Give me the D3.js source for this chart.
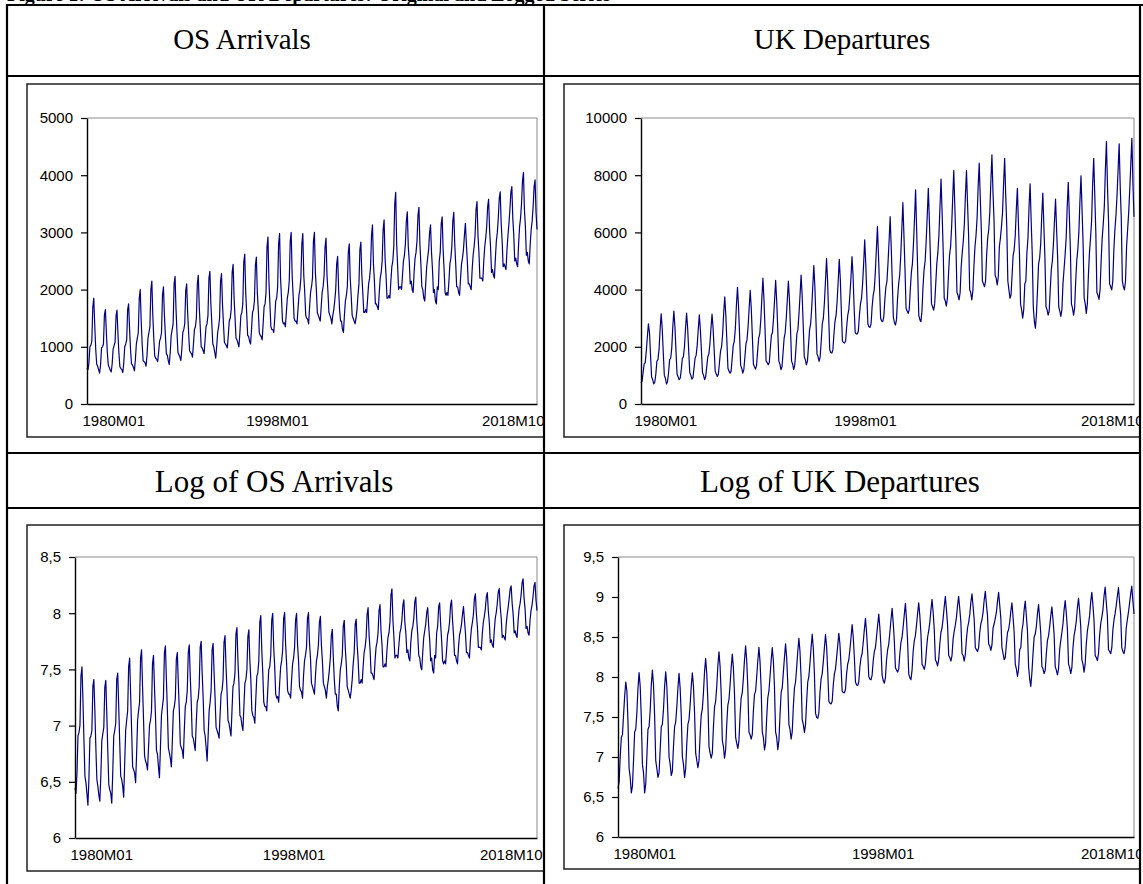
<!DOCTYPE html>
<html>
<head>
<meta charset="utf-8">
<script src="https://cdn.jsdelivr.net/npm/d3@7"></script>
<style>
  body { margin: 0; background: #fff; }
  svg { display: block; }
</style>
</head>
<body>
<svg id="chart"></svg>
<script>
// monthly series, one row per year, 1980M01 .. 2018M10 (thousands)
const years = d3.range(1980, 2019);

const osArrivals = [
  [630, 600, 720, 1000, 1030, 1100, 1700, 1850, 1380, 960, 700, 660],
  [600, 540, 680, 980, 1000, 1050, 1560, 1650, 1250, 900, 680, 640],
  [590, 560, 700, 960, 1020, 1080, 1540, 1640, 1220, 880, 650, 620],
  [600, 550, 720, 1000, 1050, 1120, 1650, 1750, 1300, 950, 700, 680],
  [640, 580, 780, 1050, 1150, 1250, 1850, 2000, 1450, 1050, 760, 740],
  [720, 660, 850, 1150, 1250, 1350, 2000, 2150, 1550, 1150, 840, 800],
  [780, 740, 900, 1100, 1150, 1250, 1900, 2050, 1550, 1200, 880, 850],
  [760, 690, 900, 1200, 1300, 1400, 2100, 2230, 1650, 1250, 900, 860],
  [820, 760, 960, 1250, 1300, 1400, 1980, 2100, 1600, 1250, 930, 900],
  [880, 820, 1050, 1300, 1350, 1500, 2100, 2250, 1700, 1350, 1000, 980],
  [930, 880, 1120, 1350, 1400, 1550, 2200, 2320, 1750, 1400, 1050, 1000],
  [900, 800, 1000, 1250, 1350, 1500, 2150, 2280, 1750, 1400, 1080, 1050],
  [1020, 980, 1200, 1450, 1500, 1650, 2300, 2440, 1850, 1500, 1150, 1120],
  [1060, 1000, 1250, 1550, 1600, 1750, 2480, 2620, 1950, 1600, 1200, 1180],
  [1100, 1050, 1300, 1600, 1650, 1800, 2420, 2570, 1950, 1650, 1250, 1200],
  [1180, 1120, 1400, 1700, 1750, 1950, 2750, 2920, 2150, 1750, 1350, 1300],
  [1300, 1250, 1500, 1800, 1850, 2050, 2800, 2980, 2200, 1850, 1450, 1400],
  [1420, 1350, 1600, 1850, 1950, 2150, 2850, 3000, 2250, 1900, 1500, 1450],
  [1450, 1400, 1650, 1900, 2000, 2200, 2800, 2980, 2250, 1950, 1550, 1500],
  [1480, 1400, 1700, 1950, 2050, 2200, 2850, 3000, 2300, 2000, 1600, 1550],
  [1500, 1450, 1700, 1950, 2050, 2250, 2750, 2900, 2250, 1950, 1600, 1550],
  [1500, 1400, 1550, 1650, 1800, 2000, 2450, 2580, 2000, 1650, 1450, 1450],
  [1300, 1250, 1550, 1800, 1900, 2050, 2650, 2800, 2200, 1900, 1550, 1500],
  [1450, 1400, 1500, 1650, 1900, 2100, 2700, 2830, 2250, 1950, 1600, 1600],
  [1650, 1600, 1850, 2100, 2200, 2400, 2950, 3130, 2450, 2150, 1750, 1750],
  [1700, 1650, 1950, 2200, 2300, 2500, 3050, 3220, 2550, 2250, 1850, 1850],
  [1900, 1850, 2150, 2400, 2500, 2750, 3500, 3700, 2800, 2400, 2000, 2050],
  [2050, 2000, 2250, 2500, 2600, 2800, 3200, 3360, 2750, 2500, 2100, 2150],
  [2000, 1950, 2300, 2550, 2650, 2850, 3300, 3440, 2800, 2450, 2050, 2000],
  [1850, 1800, 2100, 2400, 2550, 2700, 3000, 3130, 2650, 2350, 1950, 2000],
  [1800, 1750, 2050, 2000, 2500, 2650, 3150, 3270, 2700, 2350, 1950, 1900],
  [1950, 1900, 2150, 2450, 2550, 2750, 3200, 3350, 2800, 2450, 2050, 2050],
  [1950, 1900, 2200, 2450, 2550, 2700, 2950, 3160, 2800, 2500, 2100, 2100],
  [2050, 2000, 2350, 2600, 2750, 2950, 3400, 3540, 2950, 2650, 2200, 2200],
  [2200, 2150, 2500, 2750, 2900, 3100, 3450, 3580, 3050, 2750, 2300, 2350],
  [2250, 2200, 2550, 2850, 3000, 3250, 3600, 3710, 3150, 2850, 2400, 2450],
  [2400, 2350, 2700, 2950, 3150, 3400, 3700, 3800, 3250, 2950, 2500, 2550],
  [2450, 2400, 2800, 3100, 3250, 3500, 3900, 4050, 3400, 3100, 2600, 2650],
  [2500, 2450, 2800, 3050, 3200, 3450, 3800, 3920, 3350, 3050]
];

const ukDepartures = [
  [740, 800, 1100, 1400, 1450, 1850, 2350, 2800, 2500, 1700, 950, 850],
  [700, 760, 1050, 1500, 1550, 1900, 2600, 3150, 2650, 1800, 1000, 900],
  [700, 780, 1100, 1550, 1600, 1950, 2700, 3250, 2700, 1850, 1050, 950],
  [850, 900, 1200, 1600, 1650, 2000, 2650, 3180, 2650, 1850, 1100, 1000],
  [870, 920, 1250, 1600, 1700, 2050, 2600, 3120, 2600, 1850, 1100, 1000],
  [850, 950, 1300, 1650, 1750, 2100, 2650, 3140, 2650, 1900, 1150, 1050],
  [960, 1050, 1450, 1850, 2000, 2450, 3200, 3750, 3100, 2200, 1250, 1150],
  [1080, 1150, 1600, 2050, 2200, 2650, 3450, 4080, 3400, 2400, 1350, 1250],
  [1080, 1200, 1650, 2100, 2250, 2700, 3350, 3970, 3350, 2400, 1400, 1300],
  [1220, 1350, 1850, 2300, 2450, 2950, 3700, 4400, 3650, 2600, 1500, 1450],
  [1370, 1450, 1950, 2400, 2500, 3000, 3650, 4320, 3600, 2600, 1500, 1400],
  [1200, 1300, 1800, 2300, 2500, 3000, 3650, 4300, 3650, 2650, 1500, 1400],
  [1200, 1350, 1850, 2450, 2600, 3150, 3800, 4510, 3800, 2750, 1650, 1550],
  [1370, 1500, 2050, 2600, 2800, 3350, 4100, 4840, 4100, 2950, 1750, 1650],
  [1490, 1650, 2200, 2800, 3000, 3550, 4300, 5090, 4300, 3100, 1900, 1800],
  [1780, 1900, 2450, 2900, 3100, 3600, 4300, 5060, 4350, 3200, 2200, 2150],
  [2130, 2200, 2700, 3100, 3300, 3800, 4400, 5150, 4500, 3400, 2500, 2450],
  [2450, 2550, 3100, 3500, 3700, 4200, 4900, 5740, 4900, 3800, 2800, 2700],
  [2680, 2800, 3400, 3800, 4000, 4600, 5400, 6200, 5200, 4100, 3000, 2900],
  [2880, 3050, 3650, 4100, 4300, 4950, 5700, 6550, 5500, 4300, 3050, 2850],
  [2760, 2950, 3700, 4200, 4500, 5200, 6100, 7040, 5900, 4700, 3350, 3250],
  [3170, 3300, 4000, 4600, 4900, 5600, 6500, 7490, 6100, 4600, 3100, 2950],
  [2880, 3250, 4100, 4700, 5000, 5700, 6600, 7540, 6400, 5100, 3500, 3400],
  [3280, 3500, 4200, 4900, 5300, 5900, 6900, 7860, 6700, 5400, 3700, 3600],
  [3420, 3700, 4500, 5200, 5500, 6200, 7200, 8160, 6900, 5700, 3900, 3800],
  [3640, 3900, 4800, 5300, 5700, 6300, 7300, 8160, 7000, 5900, 4000, 3900],
  [3640, 3950, 4800, 5500, 5900, 6500, 7600, 8420, 7200, 6100, 4300, 4200],
  [4100, 4300, 5200, 5800, 6100, 6700, 7800, 8710, 7400, 6400, 4500, 4400],
  [4160, 4450, 5500, 5800, 6200, 6700, 7700, 8590, 7300, 6200, 4300, 4000],
  [3700, 3800, 4500, 5200, 5400, 5900, 6800, 7540, 6300, 5200, 3500, 3300],
  [3000, 3300, 4200, 4300, 5300, 5800, 6900, 7700, 6400, 5300, 3400, 2900],
  [2650, 3150, 4000, 4900, 5100, 5600, 6600, 7370, 6200, 5100, 3400, 3300],
  [3110, 3250, 4000, 4700, 5000, 5600, 6400, 7160, 6100, 5100, 3400, 3250],
  [3060, 3300, 4200, 4700, 5200, 5800, 6900, 7750, 6600, 5400, 3500, 3350],
  [3110, 3350, 4300, 5000, 5400, 6000, 7100, 7980, 6800, 5600, 3700, 3500],
  [3170, 3500, 4500, 5300, 5800, 6400, 7700, 8590, 7300, 6000, 3900, 3800],
  [3660, 4000, 5000, 5800, 6300, 6900, 8200, 9180, 7600, 6400, 4200, 4100],
  [3990, 4300, 5400, 6100, 6600, 7300, 8200, 9100, 7600, 6500, 4300, 4100],
  [3990, 4300, 5500, 6100, 6700, 7500, 8400, 9290, 7700, 6550]
];

const osTicks = [0, 1000, 2000, 3000, 4000, 5000];
const ukTicks = [0, 2000, 4000, 6000, 8000, 10000];
const osLogTicks = [6, 6.5, 7, 7.5, 8, 8.5];
const ukLogTicks = [6, 6.5, 7, 7.5, 8, 8.5, 9, 9.5];

const dateIndex = [0, 216, 465];
const dateLabels = ["1980M01", "1998M01", "2018M10"];
const dateLabelsUK = ["1980M01", "1998m01", "2018M10"];

const titleText = "Figure 1: OS Arrivals and UK Departures: Original and Logged Series";

const width = 1143, height = 884;

const svg = d3.select("#chart").attr("width", width).attr("height", height);
svg.append("rect").attr("width", width).attr("height", height).attr("fill", "#fff");

const commaLocale = d3.formatLocale({decimal: ",", thousands: ".", grouping: [3], currency: ["", ""]});
const fmtLevel = d3.format("d");
const fmtLog = commaLocale.format(".1~f");

const os = osArrivals.flat();
const uk = ukDepartures.flat();

const panels = [
  {id: "p1", title: "OS Arrivals", values: os, domain: [0, 5000], ticks: osTicks, fmt: fmtLevel,
   labels: dateLabels, dx: [-5, -19, 7], head: [242, 49, 29],
   clip: [7, 77, 536, 375], box: [27, 84, 560, 437], plot: [87, 118, 537, 404]},
  {id: "p2", title: "UK Departures", values: uk, domain: [0, 10000], ticks: ukTicks, fmt: fmtLevel,
   labels: dateLabelsUK, dx: [-7, -5, 9], head: [842, 49, 29],
   clip: [545, 77, 594, 375], box: [564, 84, 1160, 437], plot: [641, 118, 1134, 404]},
  {id: "p3", title: "Log of OS Arrivals", values: os.map(Math.log), domain: [6, 8.5], ticks: osLogTicks, fmt: fmtLog,
   labels: dateLabels, dx: [-5, 4, 5], head: [274, 492, 31],
   clip: [7, 509, 536, 375], box: [27, 525, 560, 871], plot: [75, 557, 537, 838]},
  {id: "p4", title: "Log of UK Departures", values: uk.map(Math.log), domain: [6, 9.5], ticks: ukLogTicks, fmt: fmtLog,
   labels: dateLabels, dx: [-5, 25, 9], head: [840, 492, 31],
   clip: [545, 509, 594, 375], box: [564, 525, 1160, 869], plot: [618, 557, 1134, 837]}
];

const defs = svg.append("defs");

panels.forEach(p => {
  // column header
  svg.append("text")
    .attr("x", p.head[0])
    .attr("y", p.head[1])
    .attr("text-anchor", "middle")
    .attr("font-family", "'Liberation Serif', 'Times New Roman', serif")
    .attr("font-size", p.head[2])
    .attr("fill", "#000")
    .text(p.title);

  defs.append("clipPath").attr("id", "clip-" + p.id)
    .append("rect")
    .attr("x", p.clip[0]).attr("y", p.clip[1])
    .attr("width", p.clip[2]).attr("height", p.clip[3]);

  const g = svg.append("g").attr("clip-path", `url(#clip-${p.id})`);

  // chart frame
  g.append("rect")
    .attr("x", p.box[0]).attr("y", p.box[1])
    .attr("width", p.box[2] - p.box[0]).attr("height", p.box[3] - p.box[1])
    .attr("fill", "#fff").attr("stroke", "#222").attr("stroke-width", 1.5);

  const [l, t, r, b] = p.plot;
  const x = d3.scaleLinear().domain([0, p.values.length - 1]).range([l, r]);
  const y = d3.scaleLinear().domain(p.domain).range([b, t]);

  // plot area outline (top and right in grey)
  g.append("path")
    .attr("d", `M${l},${t}H${r}V${b}`)
    .attr("fill", "none").attr("stroke", "#8a8a8a").attr("stroke-width", 1);

  // the series
  g.append("path")
    .datum(p.values)
    .attr("fill", "none")
    .attr("stroke", "#000080")
    .attr("stroke-width", 1.2)
    .attr("stroke-linejoin", "round")
    .attr("d", d3.line().x((d, i) => x(i)).y(d => y(d)));

  // y axis
  const yAxis = g.append("g")
    .attr("transform", `translate(${l},0)`)
    .call(d3.axisLeft(y).tickValues(p.ticks).tickFormat(p.fmt).tickSize(6).tickSizeOuter(0).tickPadding(8));

  // x axis
  const xAxis = g.append("g")
    .attr("transform", `translate(0,${b})`)
    .call(d3.axisBottom(x).tickValues(dateIndex).tickFormat((d, i) => p.labels[i]).tickSize(0).tickSizeOuter(0).tickPadding(11));

  xAxis.selectAll(".tick text")
    .attr("text-anchor", (d, i) => i === 0 ? "start" : (i === 2 ? "end" : "middle"))
    .attr("dx", (d, i) => p.dx[i]);

  [yAxis, xAxis].forEach(a => {
    a.select(".domain").attr("stroke", "#000").attr("stroke-width", 1.4);
    a.selectAll(".tick line").attr("stroke", "#000").attr("stroke-width", 1.2);
    a.selectAll("text")
      .attr("font-family", "'Liberation Sans', Arial, sans-serif")
      .attr("font-size", 15)
      .attr("fill", "#000");
  });
});

// figure caption, cut off at the top of the page
svg.append("text")
  .attr("x", 7).attr("y", 1)
  .attr("font-family", "'Liberation Serif', 'Times New Roman', serif")
  .attr("font-weight", "bold")
  .attr("font-size", 20)
  .attr("fill", "#000")
  .text(titleText);

// table rules
const rules = svg.append("g").attr("stroke", "#000").attr("stroke-width", 2.2);
[[7, 5, 1143, 5], [7, 4, 7, 884], [1140, 4, 1140, 884], [544, 5, 544, 884],
 [7, 76, 1140, 76], [7, 453, 1140, 453], [7, 508, 1140, 508]].forEach(s => {
  rules.append("line").attr("x1", s[0]).attr("y1", s[1]).attr("x2", s[2]).attr("y2", s[3]);
});
</script>
</body>
</html>
